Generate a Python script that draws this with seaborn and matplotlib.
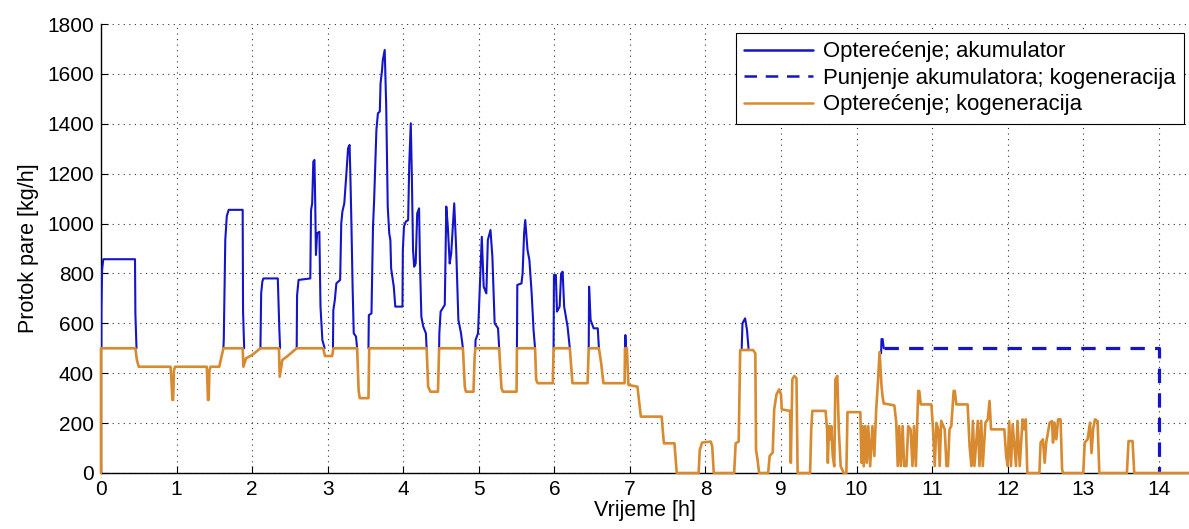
import numpy as np
import pandas as pd
import matplotlib
matplotlib.use("Agg")
import matplotlib.pyplot as plt
from matplotlib.lines import Line2D
import seaborn as sns

nan = np.nan

# Opterecenje; akumulator -- vidljivi dijelovi iznad kogeneracije (nan = prekid)
akum_t = [
    0.005, 0.006, 0.015, 0.03, 0.45, 0.455, 0.47, nan,
    1.62, 1.625, 1.645, 1.665, 1.69, 1.875, 1.88, 1.895, nan,
    2.11, 2.12, 2.135, 2.15, 2.34, 2.36, 2.37, nan,
    2.59, 2.595, 2.615, 2.77, 2.78, 2.795, 2.81, 2.825, 2.835, 2.845, 2.86,
    2.89, 2.905, 2.93, 2.96, nan,
    3.07, 3.075, 3.095, 3.115, 3.165, 3.18, 3.195, 3.22, 3.245, 3.27, 3.29,
    3.30, 3.315, 3.33, 3.345, 3.375, 3.39, nan,
    3.54, 3.545, 3.58, 3.60, 3.615, 3.645, 3.665, 3.69, 3.70, 3.72, 3.73,
    3.755, 3.775, 3.795, 3.815, 3.83, 3.84, 3.875, 3.895, 3.99, 3.995, 4.01,
    4.035, 4.065, 4.08, 4.10, 4.115, 4.13, 4.145, 4.165, 4.185, 4.21, 4.22,
    4.24, 4.265, 4.30, 4.31, nan,
    4.475, 4.478, 4.495, 4.55, 4.57, 4.59, 4.615, 4.635, 4.675, 4.70, 4.73,
    4.765, 4.79, nan,
    4.955, 4.957, 4.99, 5.04, 5.065, 5.10, 5.12, 5.155, 5.18, 5.21, 5.255,
    5.27, nan,
    5.505, 5.51, 5.565, 5.58, 5.60, 5.615, 5.645, 5.67, 5.70, 5.725, 5.745, nan,
    5.99, 5.995, 6.02, 6.035, 6.07, 6.09, 6.11, 6.13, 6.175, 6.205, nan,
    6.455, 6.46, 6.48, 6.52, 6.575, 6.59, nan,
    6.935, 6.94, 6.95, nan,
    8.48, 8.49, 8.525, 8.55, 8.57, nan,
    10.325, 10.33, 10.345, 10.36,
]
akum_v = [
    500, 660, 815, 857, 857, 640, 500, nan,
    500, 535, 935, 1030, 1055, 1055, 650, 500, nan,
    500, 720, 767, 780, 780, 580, 500, nan,
    500, 712, 774, 780, 1054, 1081, 1248, 1255, 1088, 874, 961,
    967, 667, 533, 500, nan,
    500, 653, 694, 760, 774, 1001, 1048, 1081, 1188, 1302, 1315,
    1201, 988, 747, 560, 547, 500, nan,
    500, 633, 640, 988, 1094, 1375, 1442, 1449, 1562, 1616, 1656,
    1696, 1469, 1068, 961, 934, 820, 747, 667, 667, 894, 988,
    1008, 1014, 1241, 1402, 1175, 894, 827, 840, 1041, 1061, 867,
    627, 587, 560, 500, nan,
    500, 560, 647, 674, 1068, 988, 840, 880, 1081, 907, 614,
    560, 500, nan,
    500, 533, 560, 947, 747, 720, 934, 974, 867, 600, 580,
    500, nan,
    500, 754, 760, 800, 961, 1014, 894, 854, 720, 573, 500, nan,
    500, 794, 794, 647, 667, 800, 807, 667, 587, 500, nan,
    500, 747, 614, 580, 580, 500, nan,
    500, 553, 500, nan,
    500, 600, 620, 573, 500, nan,
    480, 537, 537, 500,
]

# Punjenje akumulatora; kogeneracija
punj_t = [10.36, 14.0, 14.0]
punj_v = [500, 500, 0]

# Opterecenje; kogeneracija
kogen_t = [
    0.0, 0.0, 0.455, 0.475, 0.50, 0.92, 0.93, 0.945, 0.955, 0.965, 0.98,
    1.40, 1.41, 1.415, 1.425, 1.435, 1.45, 1.565, 1.575, 1.62,
    1.875, 1.885, 1.92, 2.0, 2.11, 2.355, 2.365, 2.40, 2.47, 2.59,
    2.94, 2.965, 3.06, 3.075, 3.39, 3.40, 3.41, 3.425, 3.54, 3.55,
    4.31, 4.33, 4.36, 4.46, 4.475, 4.79, 4.815, 4.83, 4.93, 4.945, 4.955,
    5.27, 5.30, 5.32, 5.50, 5.505, 5.745, 5.76, 5.78, 5.98, 5.99,
    6.205, 6.24, 6.44, 6.455, 6.59, 6.62, 6.65, 6.93, 6.935, 6.96, 6.98,
    7.10, 7.145, 7.42, 7.45, 7.59, 7.62,
    7.91, 7.925, 7.955, 8.07, 8.09, 8.11,
    8.38, 8.40, 8.44, 8.46, 8.63, 8.66, 8.67, 8.69, 8.71,
    8.83, 8.85, 8.89, 8.91, 8.94, 8.975, 9.0, 9.01, 9.12, 9.13, 9.15,
    9.175, 9.205, 9.22,
    9.385, 9.40, 9.415, 9.59, 9.61, 9.62, 9.635, 9.65, 9.665, 9.685, 9.705,
    9.72, 9.745, 9.765, 9.79, 9.83,
    9.865, 9.88, 10.05, 10.065, 10.08, 10.095, 10.115, 10.135, 10.155, 10.18,
    10.21, 10.235, 10.26, 10.285, 10.305, 10.33, 10.345, 10.36, 10.375,
    10.50, 10.525, 10.545, 10.565, 10.585, 10.61, 10.63, 10.66, 10.684,
    10.715, 10.74, 10.76, 10.785, 10.816, 10.83, 10.85, 10.99, 11.01,
    11.035, 11.057, 11.08, 11.10, 11.12, 11.167, 11.19, 11.21, 11.23,
    11.254, 11.285, 11.30, 11.32, 11.47, 11.496, 11.52, 11.54, 11.56,
    11.605, 11.627, 11.65, 11.67, 11.706, 11.737, 11.76, 11.78, 11.956,
    11.98, 12.0, 12.02, 12.044, 12.066, 12.11, 12.13, 12.16, 12.197,
    12.22, 12.24, 12.26,
    12.42, 12.436, 12.467, 12.49, 12.51, 12.556, 12.587, 12.60, 12.62,
    12.644, 12.667, 12.70, 12.72, 12.733,
    13.0, 13.02, 13.058, 13.09, 13.11, 13.133, 13.156, 13.19, 13.213,
    13.578, 13.60, 13.653, 13.675, 14.4,
]
kogen_v = [
    0, 500, 500, 453, 426, 426, 386, 293, 293, 410, 426,
    426, 350, 293, 293, 410, 426, 426, 440, 500,
    500, 426, 460, 473, 500, 500, 386, 453, 469, 500,
    500, 469, 469, 500, 500, 413, 330, 300, 300, 500,
    500, 346, 326, 326, 500, 500, 346, 326, 326, 466, 500,
    500, 340, 326, 326, 500, 500, 373, 360, 360, 500,
    500, 360, 360, 500, 500, 440, 360, 360, 500, 500, 353,
    346, 226, 226, 119, 119, 0,
    0, 92, 122, 126, 106, 0,
    0, 119, 126, 493, 493, 480, 92, 52, 0,
    0, 68, 82, 255, 315, 335, 315, 255, 249, 41, 375,
    389, 380, 0,
    0, 175, 249, 249, 175, 41, 188, 135, 188, 68, 27,
    375, 389, 175, 27, 0,
    0, 244, 244, 41, 188, 27, 188, 41, 188, 27,
    188, 68, 255, 375, 485, 350, 305, 278, 278,
    271, 204, 28, 188, 28, 188, 28, 28, 188,
    175, 28, 188, 28, 329, 329, 275, 275, 188,
    28, 201, 175, 28, 209, 175, 28, 28, 175,
    188, 329, 329, 275, 275, 108, 28, 209, 28,
    209, 28, 209, 28, 202, 215, 289, 175, 175,
    68, 28, 208, 28, 195, 28, 209, 28, 215,
    175, 215, 0,
    0, 122, 135, 41, 122, 202, 208, 122, 202,
    135, 215, 215, 15, 0,
    0, 122, 135, 202, 80, 180, 215, 208, 0,
    0, 128, 128, 0, 0,
]

BLUE = "#1414c8"
ORANGE = "#d88a30"

sns.set_theme(style="white")
plt.rcParams["font.family"] = ["Liberation Sans", "DejaVu Sans"]
plt.rcParams["font.size"] = 15
for key in ("text.color", "axes.labelcolor", "xtick.color", "ytick.color"):
    plt.rcParams[key] = "black"

fig = plt.figure(figsize=(11.89, 5.29), dpi=100)
ax = fig.add_axes([101 / 1189, 56 / 529, 1 - 101 / 1189, 449 / 529])

akum = pd.DataFrame({"t": akum_t, "v": akum_v})
akum["seg"] = akum["v"].isna().cumsum()
akum = akum.dropna()

sns.lineplot(data=akum, x="t", y="v", units="seg", estimator=None,
             sort=False, color=BLUE, linewidth=1.5, ax=ax, zorder=3)
sns.lineplot(x=punj_t, y=punj_v, estimator=None, sort=False, color=BLUE,
             linewidth=2.3, linestyle=(0, (4.5, 3.2)), ax=ax, zorder=3)
sns.lineplot(x=kogen_t, y=kogen_v, estimator=None, sort=False, color=ORANGE,
             linewidth=1.9, ax=ax, zorder=4, clip_on=False)

ax.set_xlim(0, 14.4)
ax.set_ylim(0, 1800)
ax.set_xticks(range(0, 15))
ax.set_yticks(range(0, 1801, 200))
ax.tick_params(direction="in", length=5, width=0.8, color="black",
               labelsize=15, pad=5, left=True, bottom=True)
ax.set_xlabel("Vrijeme [h]", fontsize=15.5, labelpad=1)
ax.set_ylabel("Protok pare [kg/h]", fontsize=15.5, labelpad=6)

ax.grid(True, color="#333333", linestyle=(0, (1, 4)), linewidth=0.8)
for side in ("top", "right"):
    ax.spines[side].set_visible(False)
for side in ("left", "bottom"):
    ax.spines[side].set_color("black")
    ax.spines[side].set_linewidth(1.0)

handles = [
    Line2D([], [], color=BLUE, linewidth=1.8),
    Line2D([], [], color=BLUE, linewidth=1.8, linestyle=(0, (5, 3.5))),
    Line2D([], [], color=ORANGE, linewidth=1.8),
]
labels = ["Opterećenje; akumulator", "Punjenje akumulatora; kogeneracija",
          "Opterećenje; kogeneracija"]
leg = ax.legend(handles, labels, loc="upper left",
                bbox_to_anchor=(736 / 1189, 1 - 33 / 529),
                bbox_transform=fig.transFigure, fontsize=15.9,
                handlelength=3.1, handletextpad=0.45, labelspacing=0.25,
                borderpad=0.38, borderaxespad=0, fancybox=False,
                framealpha=1, edgecolor="black")
leg.get_frame().set_linewidth(0.8)

fig.savefig("out.png", dpi=100)
